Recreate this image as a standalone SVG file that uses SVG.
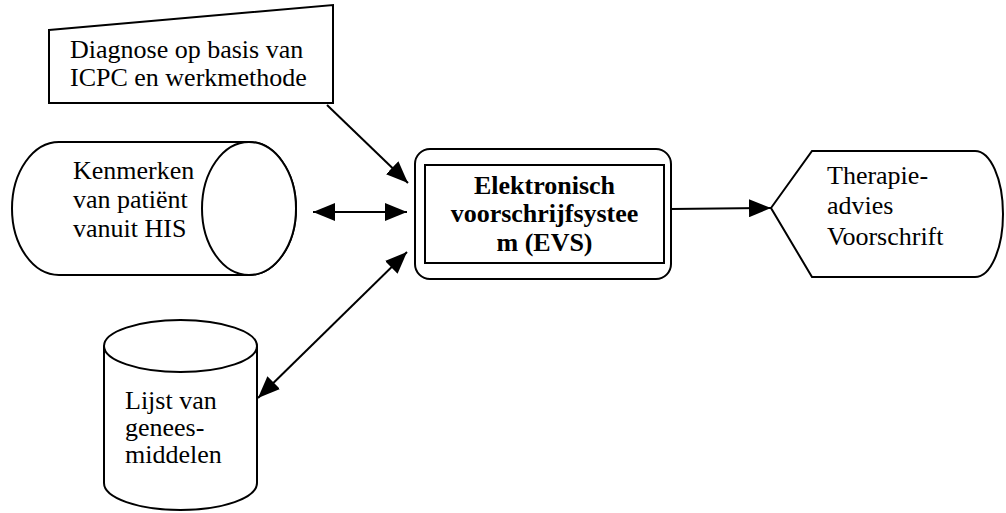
<svg xmlns="http://www.w3.org/2000/svg" width="1006" height="513" viewBox="0 0 1006 513">
<defs>
<style>
.shape{fill:#fff;stroke:#000;stroke-width:2}
.t{font-family:"Liberation Serif","Times New Roman",serif;font-size:26px;fill:#000}
.b{font-weight:bold;text-anchor:middle}
.conn{stroke:#000;stroke-width:2;fill:none}
</style>
<marker id="ah" viewBox="0 0 22 18" refX="22" refY="9" markerWidth="22" markerHeight="18" markerUnits="userSpaceOnUse" orient="auto-start-reverse">
<path d="M0,0 L22,9 L0,18 Z" fill="#000"/>
</marker>
</defs>
<rect width="1006" height="513" fill="#fff"/>
<g id="diagnose">
<polygon class="shape" points="49,30 333,5 333,103 49,103"/>
<text class="t" x="70" y="58">Diagnose op basis van</text>
<text class="t" x="70" y="86">ICPC en werkmethode</text>
</g>
<g id="kenmerken">
<path class="shape" d="M59,142 L249,142 A47,66.5 0 0 1 249,275 L59,275 A47,66.5 0 0 1 59,142 Z"/>
<ellipse class="shape" cx="249" cy="208.5" rx="47" ry="66.5"/>
<text class="t" x="73" y="179">Kenmerken</text>
<text class="t" x="73" y="208">van patiënt</text>
<text class="t" x="73" y="237">vanuit HIS</text>
</g>
<g id="evs">
<rect class="shape" x="415" y="149" width="256" height="130" rx="15" ry="15"/>
<rect class="shape" x="425" y="165" width="239" height="98"/>
<text class="t b" x="544.5" y="194">Elektronisch</text>
<text class="t b" x="544.5" y="222">voorschrijfsystee</text>
<text class="t b" x="544.5" y="251">m (EVS)</text>
</g>
<g id="therapie">
<path class="shape" d="M771,208 L812,151 L975,151 A28,63 0 0 1 975,277 L812,277 Z"/>
<text class="t" x="827" y="184">Therapie-</text>
<text class="t" x="827" y="214">advies</text>
<text class="t" x="827" y="245">Voorschrift</text>
</g>
<g id="lijst">
<path class="shape" d="M104,346 L104,483 A76.5,27 0 0 0 257,483 L257,346"/>
<ellipse class="shape" cx="180.5" cy="346" rx="76.5" ry="26"/>
<text class="t" x="125" y="409">Lijst van</text>
<text class="t" x="125" y="436">genees-</text>
<text class="t" x="125" y="463">middelen</text>
</g>
<g id="connectors">
<line class="conn" x1="327" y1="105" x2="408" y2="183" marker-end="url(#ah)"/>
<line class="conn" x1="313" y1="212" x2="407" y2="212" marker-start="url(#ah)" marker-end="url(#ah)"/>
<line class="conn" x1="258" y1="398" x2="407" y2="252" marker-start="url(#ah)" marker-end="url(#ah)"/>
<line class="conn" x1="671" y1="209" x2="771" y2="208" marker-end="url(#ah)"/>
</g>
</svg>
